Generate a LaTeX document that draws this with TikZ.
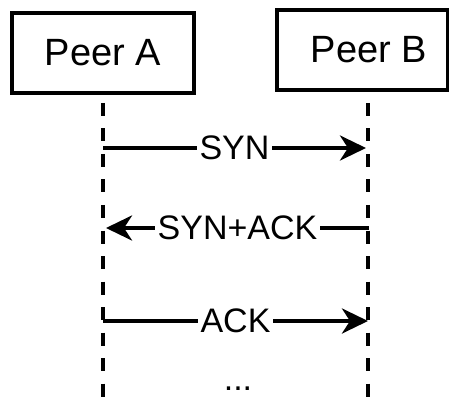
\documentclass[tikz,border=0pt]{standalone}
\usepackage{fontspec}
\setmainfont{Liberation Sans}
\usetikzlibrary{arrows.meta}
\begin{document}
\begin{tikzpicture}[x=1pt,y=-1pt,
  peerbox/.style={draw,line width=4.5pt,minimum height=80pt,inner sep=0pt,font=\fontsize{38}{40}\selectfont},
  lifeline/.style={line width=4pt,dash pattern=on 13pt off 12.5pt},
  msg/.style={line width=4pt,-{Stealth[length=26pt,width=25pt,inset=8pt]}},
  msglabel/.style={fill=white,inner sep=0pt,inner xsep=3pt,font=\fontsize{34}{36}\selectfont}]
\useasboundingbox (0,0) rectangle (449,403);
\node[peerbox,minimum width=182pt] (peerA) at (103,53) {Peer A};
\node[peerbox,minimum width=171pt] (peerB) at (362.5,50) {\hspace*{13pt}Peer B};
\coordinate (la0) at (103,103);
\coordinate (la1) at (103,403);
\coordinate (lb0) at (368,103);
\coordinate (lb1) at (368,403);
\draw[lifeline] (la0) -- (la1);
\draw[lifeline] (lb0) -- (lb1);
\coordinate (synA) at (103,148);
\coordinate (synB) at (366,148);
\coordinate (saA) at (106,228);
\coordinate (saB) at (369,228);
\coordinate (ackA) at (103,321);
\coordinate (ackB) at (368,321);
\draw[msg] (synA) -- node[msglabel] (syn) {SYN} (synB);
\draw[msg] (saB) -- node[msglabel] (synack) {SYN+ACK} (saA);
\draw[msg] (ackA) -- node[msglabel] (ack) {ACK} (ackB);
\node[font=\fontsize{34}{36}\selectfont,inner sep=0pt] (dots) at (238,389) {...};
\end{tikzpicture}
\end{document}
